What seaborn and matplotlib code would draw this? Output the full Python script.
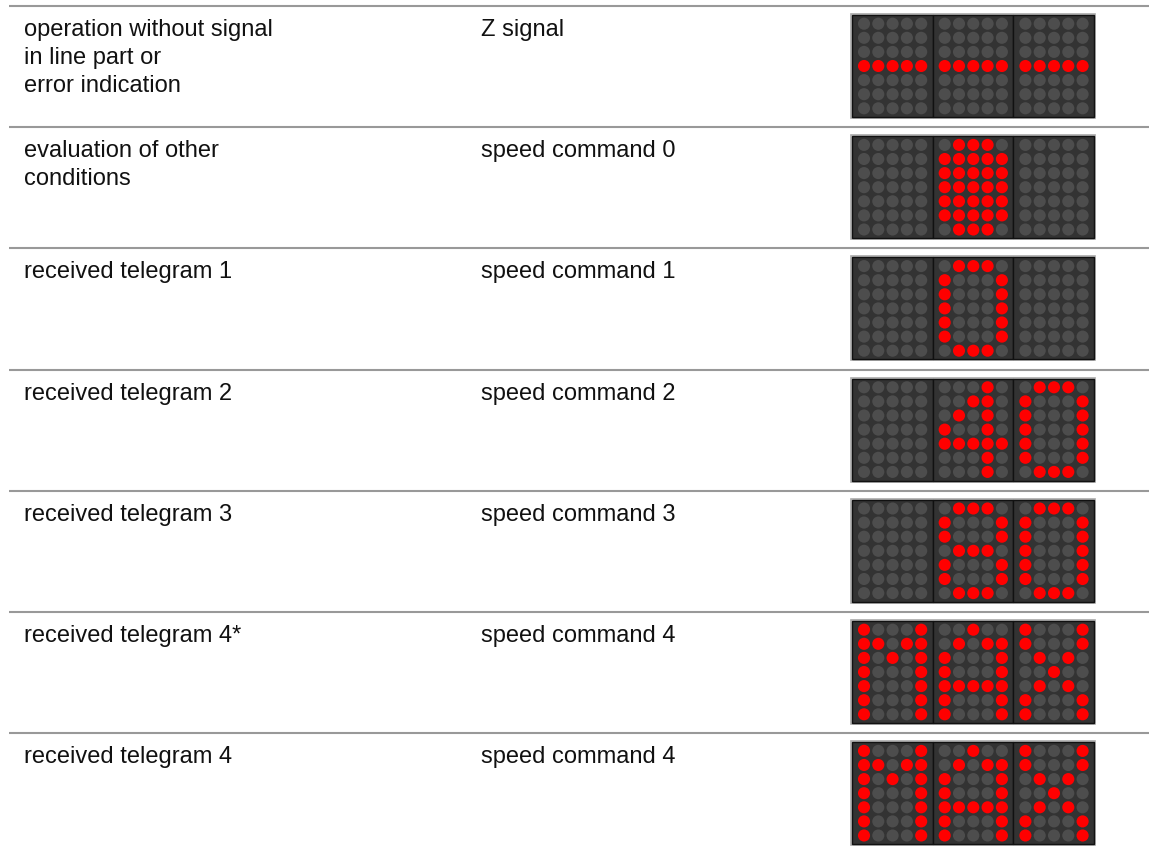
import pandas as pd
import numpy as np
import matplotlib.pyplot as plt
import matplotlib.patches as mpatches
import seaborn as sns

# ----------------------------------------------------------
# Table content
# ----------------------------------------------------------
conditions = [
    ["operation without signal", "in line part or", "error indication"],
    ["evaluation of other", "conditions"],
    ["received telegram 1"],
    ["received telegram 2"],
    ["received telegram 3"],
    ["received telegram 4*"],
    ["received telegram 4"],
]
indications = [
    "Z signal",
    "speed command 0",
    "speed command 1",
    "speed command 2",
    "speed command 3",
    "speed command 4",
    "speed command 4",
]

# 5x7 dot-matrix glyphs ('#' = lit LED)
glyphs = {
    " ": [".....", ".....", ".....", ".....", ".....", ".....", "....."],
    "-": [".....", ".....", ".....", "#####", ".....", ".....", "....."],
    "full": [".###.", "#####", "#####", "#####", "#####", "#####", ".###."],
    "0": [".###.", "#...#", "#...#", "#...#", "#...#", "#...#", ".###."],
    "4": ["...#.", "..##.", ".#.#.", "#..#.", "#####", "...#.", "...#."],
    "8": [".###.", "#...#", "#...#", ".###.", "#...#", "#...#", ".###."],
    "M": ["#...#", "##.##", "#.#.#", "#...#", "#...#", "#...#", "#...#"],
    "A": ["..#..", ".#.##", "#...#", "#...#", "#####", "#...#", "#...#"],
    "X": ["#...#", "#...#", ".#.#.", "..#..", ".#.#.", "#...#", "#...#"],
}

# what each display shows (3 panels)
displays = [
    ["-", "-", "-"],
    [" ", "full", " "],
    [" ", "0", " "],
    [" ", "4", "0"],
    [" ", "8", "0"],
    ["M", "A", "X"],
    ["M", "A", "X"],
]

# ----------------------------------------------------------
# Layout (pixel units)
# ----------------------------------------------------------
W, H = 1149, 850
row_top0, row_step = 6, 121.2
disp_x0, panel_w = 852, 80.7
disp_dy, disp_h = 9, 102
dot_x0, dot_dx = 12, 14.3
dot_y0, dot_dy = 8.7, 14.1

# build the LED table from the glyphs
records = []
for r, panels in enumerate(displays):
    top = row_top0 + row_step * r + disp_dy
    for p, g in enumerate(panels):
        for gy, line in enumerate(glyphs[g]):
            for gx, ch in enumerate(line):
                records.append({
                    "x": disp_x0 + panel_w * p + dot_x0 + dot_dx * gx,
                    "y": top + dot_y0 + dot_dy * gy,
                    "state": "on" if ch == "#" else "off",
                })
leds = pd.DataFrame(records)

sns.set_style("white")
plt.rcParams["font.family"] = ["Liberation Sans", "DejaVu Sans"]

fig = plt.figure(figsize=(W / 100, H / 100), dpi=100)
ax = fig.add_axes([0, 0, 1, 1])
ax.set_xlim(0, W)
ax.set_ylim(H, 0)
ax.axis("off")

# separator lines
for r in range(len(conditions)):
    y = row_top0 + row_step * r
    ax.hlines(y, 9, W, color="#999999", linewidth=1.5, zorder=1)

    # text columns
    for k, line in enumerate(conditions[r]):
        ax.text(24, y + 30 + 28 * k, line, fontsize=17, color="#111111",
                va="baseline", ha="left")
    ax.text(481, y + 30, indications[r], fontsize=17, color="#111111",
            va="baseline", ha="left")

    # display frame and panels
    top = y + disp_dy
    ax.add_patch(mpatches.Rectangle((disp_x0 - 1, top - 1), panel_w * 3 + 2, disp_h + 2,
                                    facecolor="none", edgecolor="#aaaaaa",
                                    linewidth=1.2, zorder=2))
    for p in range(3):
        ax.add_patch(mpatches.Rectangle((disp_x0 + panel_w * p, top), panel_w, disp_h,
                                        facecolor="#333333", edgecolor="#111111",
                                        linewidth=1.0, zorder=2))

# LEDs
sns.scatterplot(data=leds, x="x", y="y", hue="state",
                palette={"on": "#ff0000", "off": "#4d4d4d"},
                s=76, linewidth=0, legend=False, ax=ax, zorder=3)
ax.set_xlim(0, W)
ax.set_ylim(H, 0)
ax.axis("off")

plt.savefig("out.png", dpi=100)
